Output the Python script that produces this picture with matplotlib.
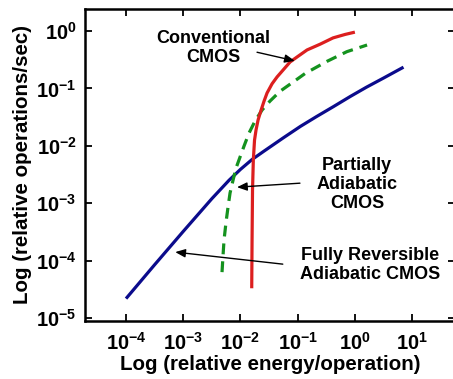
import matplotlib
matplotlib.use("Agg")
import matplotlib.pyplot as plt

plt.rcParams['font.family'] = ['Liberation Sans', 'DejaVu Sans']
plt.rcParams['font.weight'] = 'bold'
plt.rcParams['mathtext.fontset'] = 'custom'
plt.rcParams['mathtext.rm'] = 'Liberation Sans:bold'
plt.rcParams['mathtext.bf'] = 'Liberation Sans:bold'

# curves, as log10 values
reversible_logx = [-4.00, -3.50, -3.00, -2.50, -2.20, -2.00, -1.80, -1.60, -1.25,
                   -0.95, -0.67, -0.38, -0.08, 0.20, 0.50, 0.85]
reversible_logy = [-4.66, -4.07, -3.49, -2.92, -2.60, -2.41, -2.24, -2.10, -1.86,
                   -1.66, -1.49, -1.32, -1.14, -0.98, -0.82, -0.63]

conventional_logx = [-1.803, -1.797, -1.789, -1.775, -1.754, -1.727, -1.692, -1.640,
                     -1.587, -1.535, -1.448, -1.360, -1.255, -1.133, -0.993, -0.836,
                     -0.608, -0.381, -0.171, 0.0]
conventional_logy = [-4.48, -3.64, -2.77, -2.25, -1.90, -1.72, -1.55, -1.38,
                     -1.22, -1.08, -0.92, -0.80, -0.68, -0.54, -0.44, -0.33,
                     -0.23, -0.12, -0.06, -0.02]

partial_logx = [-2.322, -2.304, -2.287, -2.252, -2.217, -2.182, -2.129, -2.077,
                -2.007, -1.937, -1.850, -1.745, -1.622, -1.483, -1.308, -1.01,
                -0.87, -0.49, -0.14, 0.213]
partial_logy = [-4.199, -3.902, -3.641, -3.328, -3.066, -2.822, -2.596, -2.387,
                -2.195, -2.003, -1.777, -1.568, -1.376, -1.220, -1.05, -0.84,
                -0.74, -0.53, -0.36, -0.244]

xticks = [1e-4, 1e-3, 1e-2, 1e-1, 1e0, 1e1]
xtick_labels = ['$10^{-4}$', '$10^{-3}$', '$10^{-2}$', '$10^{-1}$', '$10^{0}$', '$10^{1}$']
yticks = [1e-5, 1e-4, 1e-3, 1e-2, 1e-1, 1e0]
ytick_labels = ['$10^{-5}$', '$10^{-4}$', '$10^{-3}$', '$10^{-2}$', '$10^{-1}$', '$10^{0}$']


def pow10(vals):
    return [10 ** v for v in vals]


fig = plt.figure(figsize=(4.53, 3.79), dpi=100)
ax = fig.add_axes([85 / 453, 1 - 321 / 379, 370 / 453, 312 / 379])

ax.plot(pow10(reversible_logx), pow10(reversible_logy), color='#0b0b8c', lw=2.3,
        solid_capstyle='butt', solid_joinstyle='round')
ax.plot(pow10(partial_logx), pow10(partial_logy), color='#14921e', lw=2.3,
        dashes=(3.4, 2.2))
ax.plot(pow10(conventional_logx), pow10(conventional_logy), color='#dc1f1f', lw=2.3,
        solid_capstyle='butt', solid_joinstyle='round')

ax.set_xscale('log')
ax.set_yscale('log')
ax.set_xlim(10 ** -4.717, 10 ** 1.75)
ax.set_ylim(10 ** -5.05, 10 ** 0.383)
ax.set_xticks(xticks)
ax.set_xticklabels(xtick_labels)
ax.set_yticks(yticks)
ax.set_yticklabels(ytick_labels)
ax.minorticks_off()
ax.tick_params(which='major', direction='in', length=5, width=1.3,
               top=True, right=True, labelsize=14.5)
ax.tick_params(axis='x', pad=8)
ax.tick_params(axis='y', pad=6)
for sp in ax.spines.values():
    sp.set_linewidth(1.8)

ax.set_xlabel('Log (relative energy/operation)', fontsize=14.8, fontweight='bold',
              labelpad=1)
ax.set_ylabel('Log (relative operations/sec)', fontsize=14.8, fontweight='bold',
              labelpad=3)

txt = dict(ha='center', va='center', fontsize=13, fontweight='bold', linespacing=1.15)
ax.text(10 ** -2.48, 10 ** -0.29, 'Conventional\nCMOS', **txt)
ax.text(10 ** 0.04, 10 ** -2.68, 'Partially\nAdiabatic\nCMOS', **txt)
ax.text(10 ** 0.27, 10 ** -4.07, 'Fully Reversible\nAdiabatic CMOS', **txt)

arrow = dict(arrowstyle='-|>,head_length=0.6,head_width=0.25', color='black', lw=1.0,
             shrinkA=0, shrinkB=0)
ax.annotate('', xy=(10 ** -1.05, 10 ** -0.52), xytext=(10 ** -1.71, 10 ** -0.37),
            arrowprops=arrow)
ax.annotate('', xy=(10 ** -2.06, 10 ** -2.72), xytext=(10 ** -0.96, 10 ** -2.65),
            arrowprops=arrow)
ax.annotate('', xy=(10 ** -3.14, 10 ** -3.85), xytext=(10 ** -1.26, 10 ** -4.06),
            arrowprops=arrow)

fig.savefig('out.png', dpi=100)
